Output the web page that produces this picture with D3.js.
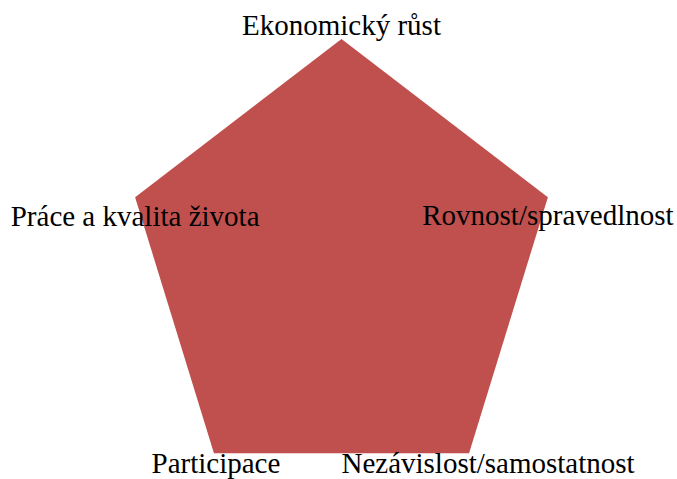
<!DOCTYPE html>
<html>
<head>
<meta charset="utf-8">
<script src="https://cdn.jsdelivr.net/npm/d3@7"></script>
<style>
  body { margin: 0; background: #fff; }
  text { font-family: "Liberation Serif", "Times New Roman", serif; }
</style>
</head>
<body>
<div id="chart"></div>
<script>
const categories = ['Ekonomický růst', 'Rovnost/spravedlnost', 'Nezávislost/samostatnost', 'Participace', 'Práce a kvalita života'];
const values = [1, 1, 1, 1, 1];
const maxValue = 1;

const width = 677, height = 479;
const cx = 341.5, cy = 268;
const rx = 217, ry = 229;

const svg = d3.select('#chart')
    .append('svg')
    .attr('width', width)
    .attr('height', height);

const angle = d3.scaleLinear()
    .domain([0, categories.length])
    .range([0, 2 * Math.PI]);

const rScale = d3.scaleLinear()
    .domain([0, maxValue])
    .range([0, 1]);

function point(i, v) {
    const a = angle(i);
    return [cx + rx * rScale(v) * Math.sin(a), cy - ry * rScale(v) * Math.cos(a)];
}

const line = d3.line().curve(d3.curveLinearClosed);

svg.append('path')
    .attr('d', line(values.map((v, i) => point(i, v))))
    .attr('fill', '#c0504d');

// label offsets from each axis end
const labelOffsets = [[0, -4], [0, 28], [19, 20], [2, 20], [0, 29]];

svg.selectAll('.label')
    .data(categories)
    .enter()
    .append('text')
    .attr('class', 'label')
    .attr('x', (d, i) => point(i, maxValue)[0] + labelOffsets[i][0])
    .attr('y', (d, i) => point(i, maxValue)[1] + labelOffsets[i][1])
    .attr('text-anchor', 'middle')
    .style('font-size', '29px')
    .attr('fill', '#000')
    .text(d => d);
</script>
</body>
</html>
